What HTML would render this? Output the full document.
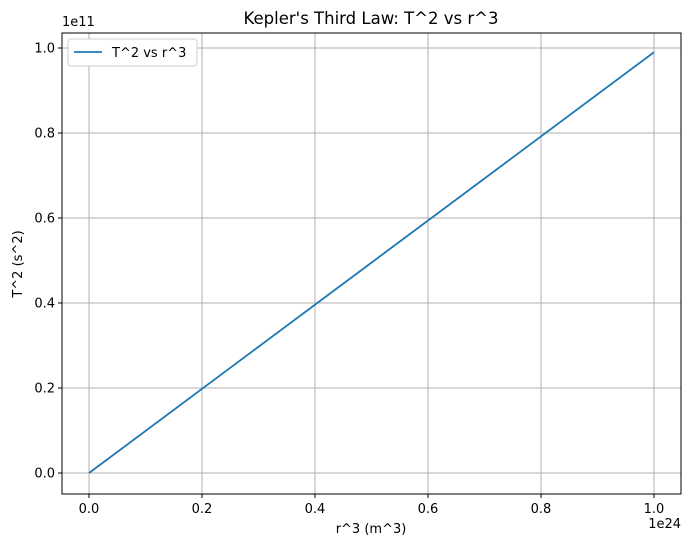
<!DOCTYPE html>
<html><head><meta charset="utf-8"><style>
body{margin:0;background:#fff;font-family:"Liberation Sans","DejaVu Sans",sans-serif;}
svg text{font-family:"DejaVu Sans","Liberation Sans",sans-serif;fill:#000;}
</style></head><body>
<svg id="chart" width="691" height="547" xmlns="http://www.w3.org/2000/svg">
<rect width="691" height="547" fill="#fff"/>
<g id="grid"></g>
<g id="ticks"></g>
<path id="line" fill="none" stroke="#1f77b4" stroke-width="1.8"/>
<rect x="62" y="33" width="619" height="461" fill="none" stroke="#000" stroke-width="1"/>
<text x="371" y="24" font-size="16.5" text-anchor="middle">Kepler's Third Law: T^2 vs r^3</text>
<text x="371" y="533" font-size="13" text-anchor="middle">r^3 (m^3)</text>
<text transform="translate(22,264) rotate(-90)" font-size="13" text-anchor="middle">T^2 (s^2)</text>
<text x="681" y="528" font-size="13" text-anchor="end">1e24</text>
<text x="62" y="26" font-size="13">1e11</text>
<g>
<rect x="68" y="39" width="129" height="27" rx="3" fill="#fff" stroke="#ccc" stroke-width="1"/>
<line x1="74" y1="52" x2="102" y2="52" stroke="#1f77b4" stroke-width="1.8"/>
<text x="112" y="57" font-size="13">T^2 vs r^3</text>
</g>
</svg>
<script>
const xVals=[0,0.25,0.5,0.75,1.0];
const yVals=[0,0.2475,0.495,0.7425,0.99];
const xTicks=[0,0.2,0.4,0.6,0.8,1.0];
const yTicks=[0,0.2,0.4,0.6,0.8,1.0];
const xTickLabels=["0.0","0.2","0.4","0.6","0.8","1.0"];
const yTickLabels=["0.0","0.2","0.4","0.6","0.8","1.0"];
function xs(v){return 89+v*565;}
function ys(v){return 473-v*425;}
const ns="http://www.w3.org/2000/svg";
const grid=document.getElementById('grid'),ticks=document.getElementById('ticks');
function mk(t,a,p){const e=document.createElementNS(ns,t);for(const k in a)e.setAttribute(k,a[k]);p.appendChild(e);return e;}
xTicks.forEach((v,i)=>{const x=xs(v);
const g=mk('line',{x1:x,x2:x,y1:33,y2:494,stroke:'#b0b0b0','stroke-width':1},grid);


mk('line',{x1:x,x2:x,y1:494,y2:498,stroke:'#000','stroke-width':1},ticks);
const t=mk('text',{x:x,y:513,'font-size':13,'text-anchor':'middle'},ticks);t.textContent=xTickLabels[i];

});
yTicks.forEach((v,i)=>{const y=ys(v);
const g=mk('line',{x1:62,x2:681,y1:y,y2:y,stroke:'#b0b0b0','stroke-width':1},grid);


mk('line',{x1:58,x2:62,y1:y,y2:y,stroke:'#000','stroke-width':1},ticks);
const t=mk('text',{x:55,y:y+4.5,'font-size':13,'text-anchor':'end'},ticks);t.textContent=yTickLabels[i];

});
document.getElementById('line').setAttribute('d',xVals.map((v,i)=>(i?'L':'M')+xs(v)+','+ys(yVals[i])).join(''));
</script>
</body></html>
